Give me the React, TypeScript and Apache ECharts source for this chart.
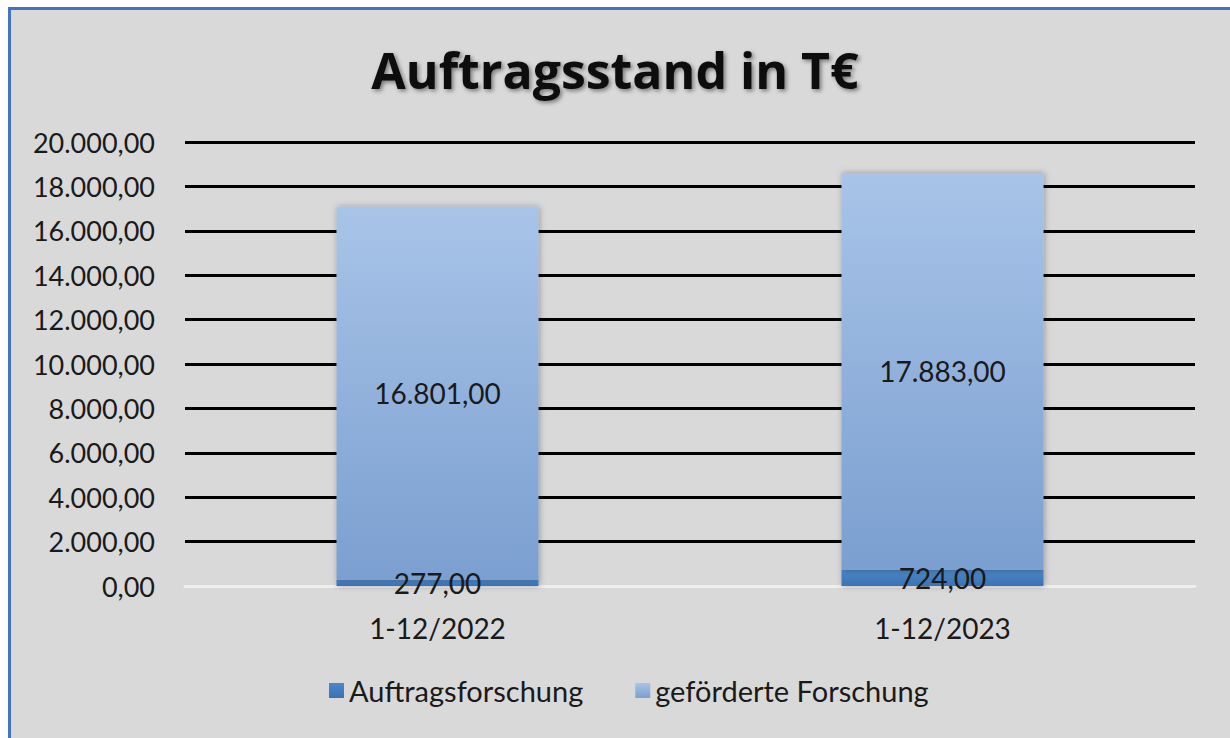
import React, { useEffect, useRef } from "react";
import * as echarts from "echarts";

const categories = ["1-12/2022", "1-12/2023"];
const auftragsforschung = [277, 724];
const gefoerderteForschung = [16801, 17883];
const seriesNames = ["Auftragsforschung", "geförderte Forschung"];
const titleText = "Auftragsstand in T€";

function fmtDE(v: number): string {
  const s = Math.abs(v).toFixed(2);
  const [i, d] = s.split(".");
  const withDots = i.replace(/\B(?=(\d{3})+(?!\d))/g, ".");
  return (v < 0 ? "-" : "") + withDots + "," + d;
}

export default function App() {
  const ref = useRef<HTMLDivElement>(null);
  useEffect(() => {
    if (!ref.current) return;
    const chart = echarts.init(ref.current, null, { renderer: "svg" });
    const font = "Lato, 'Open Sans', sans-serif";
    chart.setOption({
      animation: false,
      backgroundColor: "#d9d9d9",
      textStyle: { fontFamily: font },
      title: {
        text: titleText,
        left: "center",
        top: 40,
        textStyle: {
          fontFamily: "'Open Sans', sans-serif",
          fontSize: 50,
          fontWeight: "bold",
          color: "#0d0d0d",
          textShadowColor: "rgba(0,0,0,0.45)",
          textShadowBlur: 4,
          textShadowOffsetX: 2,
          textShadowOffsetY: 2,
        },
      },
      graphic: [
        { type: "rect", shape: { x: 0, y: 0, width: 8, height: 738 }, style: { fill: "#ffffff" }, z: 100 },
        { type: "rect", shape: { x: 0, y: 0, width: 1230, height: 7 }, style: { fill: "#ffffff" }, z: 100 },
        { type: "rect", shape: { x: 8, y: 7, width: 3, height: 731 }, style: { fill: "#4472c4" }, z: 100 },
        { type: "rect", shape: { x: 8, y: 7, width: 1222, height: 3 }, style: { fill: "#4472c4" }, z: 100 },
      ],
      legend: {
        bottom: 28,
        left: 324,
        icon: "rect",
        itemWidth: 15,
        itemHeight: 15,
        itemGap: 52,
        textStyle: { fontFamily: font, fontSize: 29, color: "#1a1a1a" },
        data: seriesNames,
      },
      grid: { left: 185, right: 35, top: 142, bottom: 152, containLabel: false },
      xAxis: {
        type: "category",
        data: categories,
        z: 1,
        axisLine: { show: true, lineStyle: { color: "#eeeeee", width: 3 } },
        axisTick: { show: false },
        axisLabel: { fontFamily: font, fontSize: 28, color: "#1a1a1a", margin: 28 },
      },
      yAxis: {
        type: "value",
        min: 0,
        max: 20000,
        interval: 2000,
        z: 0,
        axisLine: { show: false },
        axisTick: { show: false },
        axisLabel: {
          fontFamily: font,
          fontSize: 27,
          color: "#1a1a1a",
          margin: 30,
          formatter: (v: number) => fmtDE(v),
        },
        splitLine: {
          show: true,
          lineStyle: {
            color: "#000000",
            width: 3,
          },
        },
      },
      series: [
        {
          name: seriesNames[0],
          type: "bar",
          stack: "total",
          barWidth: "40%",
          z: 5,
          data: auftragsforschung,
          itemStyle: {
            color: new echarts.graphic.LinearGradient(0, 0, 0, 1, [
              { offset: 0, color: "#4d86c6" },
              { offset: 1, color: "#3a73b5" },
            ]),
            shadowColor: "rgba(0,0,0,0.3)",
            shadowBlur: 6,
            shadowOffsetX: 1,
          },
          label: {
            show: true,
            position: "inside",
            fontFamily: font,
            fontSize: 28,
            color: "#1a1a1a",
            formatter: (p: any) => fmtDE(p.value),
          },
        },
        {
          name: seriesNames[1],
          type: "bar",
          stack: "total",
          barWidth: "40%",
          z: 5,
          data: gefoerderteForschung,
          itemStyle: {
            color: new echarts.graphic.LinearGradient(0, 0, 0, 1, [
              { offset: 0, color: "#a8c4e8" },
              { offset: 1, color: "#7b9fd0" },
            ]),
            shadowColor: "rgba(0,0,0,0.3)",
            shadowBlur: 6,
            shadowOffsetX: 1,
          },
          label: {
            show: true,
            position: "inside",
            fontFamily: font,
            fontSize: 28,
            color: "#1a1a1a",
            formatter: (p: any) => fmtDE(p.value),
          },
        },
      ],
    });
    return () => chart.dispose();
  }, []);
  return (
    <div
      ref={ref}
      style={{ position: "fixed", left: 0, top: 0, width: 1230, height: 738 }}
    />
  );
}
